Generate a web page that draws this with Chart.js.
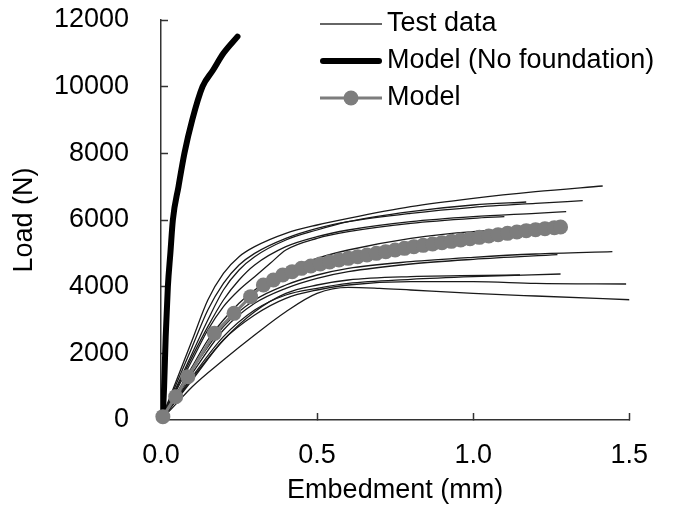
<!DOCTYPE html>
<html>
<head>
<meta charset="utf-8">
<script src="https://cdn.jsdelivr.net/npm/chart.js@4.4.1/dist/chart.umd.min.js"></script>
<style>
  html, body { margin: 0; padding: 0; background: #fff; }
  #wrap { width: 674px; height: 512px; }
</style>
</head>
<body>
<div id="wrap"><canvas id="chart" width="674" height="512"></canvas></div>
<script>
// axis ticks
const xTicks = [0, 0.5, 1.0, 1.5];
const yTicks = [0, 2000, 4000, 6000, 8000, 10000, 12000];

// model without foundation (thick black)
const noFoundX = [0.005, 0.01, 0.015, 0.022, 0.03, 0.038, 0.056, 0.075, 0.1, 0.133, 0.167, 0.2, 0.245];
const noFoundY = [0, 1000, 2500, 4000, 5000, 6000, 7000, 8000, 9000, 10000, 10500, 11000, 11500];

// model (grey markers)
const modelX = [0.006, 0.047, 0.086, 0.171, 0.234, 0.287, 0.328, 0.36, 0.39, 0.42, 0.45, 0.48, 0.51, 0.54, 0.57, 0.6,
  0.63, 0.66, 0.69, 0.72, 0.75, 0.78, 0.81, 0.84, 0.87, 0.9, 0.93, 0.96, 0.99, 1.02, 1.05, 1.08, 1.11, 1.14,
  1.17, 1.2, 1.23, 1.26, 1.28];
const modelY = [100, 700, 1300, 2600, 3200, 3700, 4050, 4200, 4350, 4450, 4550, 4620, 4680, 4740, 4800, 4850,
  4900, 4950, 5000, 5050, 5100, 5150, 5200, 5240, 5280, 5320, 5360, 5400, 5440, 5480, 5520, 5560, 5600, 5640,
  5680, 5710, 5740, 5770, 5790];

// test curves [embedment, load]
const test1 = [[0,0],[0.05,1200],[0.1,2400],[0.15,3600],[0.2,4400],[0.25,4900],[0.3,5200],[0.4,5600],[0.5,5850],[0.6,6050],[0.8,6400],[1.0,6650],[1.2,6850],[1.415,7020]];
const test2 = [[0,0],[0.05,1100],[0.1,2200],[0.15,3300],[0.2,4100],[0.25,4650],[0.3,5000],[0.4,5450],[0.5,5750],[0.6,5950],[0.8,6200],[1.0,6380],[1.2,6500],[1.351,6580]];
const test3 = [[0,0],[0.05,1000],[0.1,2000],[0.15,3000],[0.2,3900],[0.25,4500],[0.3,4900],[0.4,5400],[0.5,5700],[0.6,5950],[0.8,6250],[1.0,6450],[1.17,6540]];
const test4 = [[0,0],[0.05,950],[0.1,1900],[0.15,2800],[0.2,3600],[0.25,4200],[0.3,4650],[0.4,5200],[0.5,5500],[0.6,5700],[0.8,5950],[1.0,6100],[1.2,6200],[1.298,6250]];
const test5 = [[0,0],[0.05,900],[0.1,1800],[0.15,2700],[0.2,3400],[0.25,3900],[0.3,4300],[0.35,4700],[0.4,5100],[0.5,5450],[0.6,5650],[0.8,5900],[1.0,6050],[1.1,6100]];
const test6 = [[0,0],[0.05,800],[0.1,1600],[0.15,2400],[0.2,3000],[0.25,3500],[0.3,3900],[0.4,4500],[0.5,4850],[0.6,5100],[0.8,5450],[1.0,5650],[1.28,5750]];
const test7 = [[0,0],[0.05,750],[0.1,1500],[0.2,2800],[0.3,3600],[0.4,4050],[0.5,4350],[0.6,4550],[0.8,4750],[1.0,4880],[1.2,4980],[1.446,5050]];
const test8 = [[0,0],[0.05,700],[0.1,1400],[0.2,2700],[0.3,3500],[0.4,3950],[0.5,4250],[0.6,4450],[0.8,4680],[1.0,4820],[1.27,4960]];
const test9 = [[0,0],[0.05,650],[0.1,1300],[0.2,2500],[0.3,3300],[0.4,3750],[0.5,3950],[0.6,4100],[0.8,4220],[1.0,4300],[1.28,4380]];
const test10 = [[0,0],[0.05,620],[0.1,1250],[0.2,2400],[0.3,3250],[0.4,3800],[0.5,4050],[0.6,4200],[0.8,4300],[1.15,4350]];
const test11 = [[0,0],[0.05,600],[0.1,1200],[0.2,2400],[0.3,3150],[0.4,3650],[0.5,3900],[0.6,4050],[0.8,4150],[1.0,4150],[1.2,4100],[1.49,4080]];
const test12 = [[0,0],[0.05,500],[0.1,1000],[0.2,1800],[0.3,2550],[0.4,3250],[0.5,3800],[0.6,3980],[0.7,3950],[0.8,3900],[1.0,3800],[1.2,3720],[1.525,3600]];
const testCurves = [test1, test2, test3, test4, test5, test6, test7, test8, test9, test10, test11, test12];

const legendLabels = ["Test data", "Model (No foundation)", "Model"];

const FONT = "'Liberation Sans', Arial, sans-serif";
const GREY = "#7d7d7d";

Chart.defaults.font.family = FONT;
Chart.defaults.font.size = 27;
Chart.defaults.color = "#000";

function toPoints(xs, ys) {
  return xs.map((x, i) => ({ x: x, y: ys[i] }));
}

const datasets = [];

datasets.push({
  label: legendLabels[2],
  data: toPoints(modelX, modelY),
  showLine: true,
  borderColor: GREY,
  borderWidth: 3,
  backgroundColor: GREY,
  pointRadius: 7.5,
  pointBorderWidth: 0,
  pointStyle: "circle",
  clip: false,
  order: 0,
});

datasets.push({
  label: legendLabels[1],
  data: toPoints(noFoundX, noFoundY),
  showLine: true,
  borderColor: "#000",
  borderWidth: 6,
  pointRadius: 0,
  cubicInterpolationMode: "monotone",
  borderCapStyle: "round",
  order: 1,
});

testCurves.forEach(function (curve) {
  datasets.push({
    label: legendLabels[0],
    data: curve.map(p => ({ x: p[0], y: p[1] })),
    showLine: true,
    borderColor: "#1a1a1a",
    borderWidth: 1.3,
    pointRadius: 0,
    cubicInterpolationMode: "monotone",
    order: 2,
  });
});

// legend drawn inside the plot, top right
const legendPlugin = {
  id: "sampleLegend",
  afterDraw(chart) {
    const ctx = chart.ctx;
    const area = chart.chartArea;
    const x0 = area.left + 159;
    const x1 = x0 + 62;
    const rows = [area.top + 4, area.top + 41, area.top + 78];
    ctx.save();
    ctx.lineCap = "butt";

    ctx.strokeStyle = "#333";
    ctx.lineWidth = 1.5;
    ctx.beginPath(); ctx.moveTo(x0, rows[0]); ctx.lineTo(x1, rows[0]); ctx.stroke();

    ctx.strokeStyle = "#000";
    ctx.lineWidth = 6;
    ctx.lineCap = "round";
    ctx.beginPath(); ctx.moveTo(x0 + 3, rows[1]); ctx.lineTo(x1 - 3, rows[1]); ctx.stroke();

    ctx.lineCap = "butt";
    ctx.strokeStyle = GREY;
    ctx.lineWidth = 3;
    ctx.beginPath(); ctx.moveTo(x0, rows[2]); ctx.lineTo(x1, rows[2]); ctx.stroke();
    ctx.fillStyle = GREY;
    ctx.beginPath(); ctx.arc((x0 + x1) / 2, rows[2], 7.5, 0, Math.PI * 2); ctx.fill();

    ctx.fillStyle = "#000";
    ctx.font = "27px " + FONT;
    ctx.textBaseline = "middle";
    ctx.textAlign = "left";
    legendLabels.forEach((t, i) => ctx.fillText(t, x1 + 5, rows[i]));
    ctx.restore();
  },
};

new Chart(document.getElementById("chart"), {
  type: "scatter",
  data: { datasets: datasets },
  plugins: [legendPlugin],
  options: {
    responsive: false,
    animation: false,
    layout: { padding: { left: 0, top: 20, right: 38, bottom: 0 } },
    plugins: { legend: { display: false }, tooltip: { enabled: false } },
    elements: { line: { tension: 0 } },
    scales: {
      x: {
        type: "linear",
        min: xTicks[0],
        max: xTicks[xTicks.length - 1],
        afterBuildTicks: (scale) => { scale.ticks = xTicks.map(v => ({ value: v })); },
        afterFit: (scale) => { scale.height = 92; },
        ticks: { padding: 26, callback: (v) => Number(v).toFixed(1) },
        grid: { drawOnChartArea: false, drawTicks: true, tickLength: -7, tickColor: "#333", tickWidth: 1.5 },
        border: { display: true, color: "#333", width: 1.5 },
        title: { display: true, text: "Embedment (mm)", padding: { top: 0, bottom: 5 } },
      },
      y: {
        type: "linear",
        min: yTicks[0],
        max: yTicks[yTicks.length - 1],
        afterBuildTicks: (scale) => { scale.ticks = yTicks.map(v => ({ value: v })); },
        afterFit: (scale) => {
          scale.width = 161;
          scale.paddingTop = 16;
          scale.paddingBottom = 16;
        },
        ticks: { padding: 39, callback: (v) => String(v) },
        grid: { drawOnChartArea: false, drawTicks: true, tickLength: -7, tickColor: "#333", tickWidth: 1.5 },
        border: { display: true, color: "#333", width: 1.5 },
        title: { display: true, text: "Load (N)", padding: { top: 8, bottom: 0 } },
      },
    },
  },
});
</script>
</body>
</html>
